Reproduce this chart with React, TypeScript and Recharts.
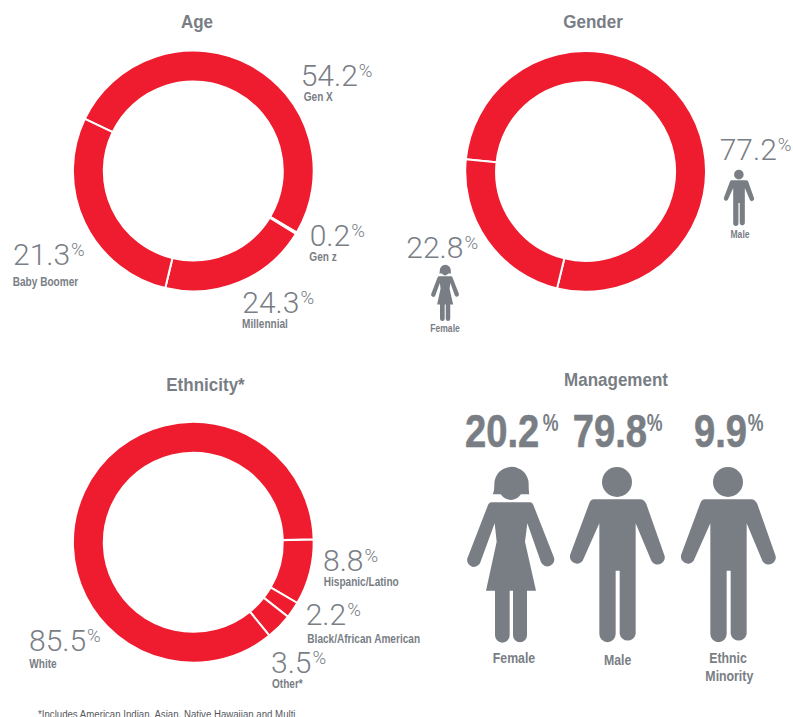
import React from "react";
import { PieChart, Pie, Cell } from "recharts";

const RED = "#ee1c2e";
const GRAY = "#797e85";
const SANS = '"Liberation Sans", Arial, sans-serif';
const LIGHT = 'Roboto, "Liberation Sans", sans-serif';

// age arcs are read off the drawn ring, the printed labels don't agree with it
const ageNames = ["Gen X", "Gen z", "Millennial", "Baby Boomer"];
const ageArcs = [51.4, 0.2, 20, 28.4];
const ageLabels = ["54.2", "0.2", "24.3", "21.3"];

const genderNames = ["Male", "Female"];
const genderValues = [77.2, 22.8];

const ethnicityNames = ["Hispanic/Latino", "Black/African American", "Other*", "White"];
const ethnicityValues = [8.8, 2.2, 3.5, 85.5];

const managementValues = ["20.2", "79.8", "9.9"];

function toRows(names: string[], values: number[]) {
  return names.map(function (name, i) {
    return { name: name, value: values[i] };
  });
}

const rings = [
  { key: "age", rows: toRows(ageNames, ageArcs), cx: 193.3, cy: 171, start: 154.3 },
  { key: "gender", rows: toRows(genderNames, genderValues), cx: 585.6, cy: 171.4, start: 174.2 },
  { key: "ethnicity", rows: toRows(ethnicityNames, ethnicityValues), cx: 193.3, cy: 542.3, start: 1.4 },
];

const titles = [
  { text: "Age", x: 197, y: 28 },
  { text: "Gender", x: 593, y: 28 },
  { text: "Ethnicity*", x: 205.5, y: 391 },
  { text: "Management", x: 616, y: 385.5 },
];

const callouts = [
  { value: ageLabels[0], name: ageNames[0], x: 300.7, y: 86, nx: 303.7, ny: 101.3 },
  { value: ageLabels[1], name: ageNames[1], x: 309.7, y: 245.7, nx: 309.3, ny: 260.7 },
  { value: ageLabels[2], name: ageNames[2], x: 242.3, y: 312.7, nx: 242, ny: 328.3 },
  { value: ageLabels[3], name: ageNames[3], x: 13, y: 265, nx: 12.7, ny: 286 },
  { value: "8.8", name: ethnicityNames[0], x: 323, y: 571, nx: 323.7, ny: 586 },
  { value: "2.2", name: ethnicityNames[1], x: 305.7, y: 625, nx: 307.3, ny: 642.7 },
  { value: "3.5", name: ethnicityNames[2], x: 271, y: 673, nx: 272, ny: 687.7 },
  { value: "85.5", name: ethnicityNames[3], x: 29, y: 651, nx: 29.3, ny: 667.7 },
];

const genderCallouts = [
  { value: "77.2", name: genderNames[0], x: 719.7, y: 160, nx: 740, ny: 238 },
  { value: "22.8", name: genderNames[1], x: 406.3, y: 258.3, nx: 445, ny: 332 },
];

const bigNumbers = [
  { value: managementValues[0], x: 465, pct: 542.7 },
  { value: managementValues[1], x: 572.7, pct: 646.7 },
  { value: managementValues[2], x: 694, pct: 747.7 },
];

const bodyLabels = [
  { text: "Female", x: 514, y: 662.7 },
  { text: "Male", x: 617.7, y: 664.7 },
  { text: "Ethnic", x: 728, y: 662.7 },
  { text: "Minority", x: 729.3, y: 680.7 },
];

const MALE_BODY =
  "M432 418 H570 Q583 418 589 432 L642 583 A21 21 0 0 1 604 602 L557 490 V822 A24.5 24.5 0 0 1 509 822 V632 H497 V822 A24.5 24.5 0 0 1 448 822 V490 L398 602 A21 21 0 0 1 361 583 L417 432 Q421 418 432 418 Z";
const FEMALE_HAIR =
  "M128 403 Q133 395 133 372 A50 50 0 0 1 236 372 Q236 395 238 403 H213 Q200 420 183 420 Q165 420 152 403 Z";
const FEMALE_BODY =
  "M125 427 H240 Q248 427 252 440 L311 590 A20 20 0 0 1 273 607 L232 490 L225 545 L258 692 H231 V826 A21 21 0 0 1 189 826 V692 H179 V826 A22 22 0 0 1 135 826 V692 H108 L140 545 L134 490 L90 610 A20 20 0 0 1 54 590 L112 440 Q116 427 125 427 Z";

function Male(props: { x: number; y: number; s: number }) {
  return (
    <g transform={"translate(" + props.x + " " + props.y + ") scale(" + props.s + ")"} fill={GRAY}>
      <circle cx={501} cy={366} r={45} />
      <path d={MALE_BODY} />
    </g>
  );
}

function Female(props: { x: number; y: number; s: number }) {
  return (
    <g transform={"translate(" + props.x + " " + props.y + ") scale(" + props.s + ")"} fill={GRAY}>
      <path d={FEMALE_HAIR} />
      <path d={FEMALE_BODY} />
    </g>
  );
}

// no narrow face is installed, so squeeze the regular one horizontally
function Cond(props: {
  text: string;
  x: number;
  y: number;
  size: number;
  sx: number;
  anchor?: "middle";
  weight?: number;
  color?: string;
  thick?: number;
}) {
  return (
    <text
      transform={"translate(" + props.x + " " + props.y + ") scale(" + props.sx + " 1)"}
      textAnchor={props.anchor}
      fill={props.color || GRAY}
      stroke={props.thick ? GRAY : "none"}
      strokeWidth={props.thick || 0}
      fontFamily={SANS}
      fontWeight={props.weight || 700}
      fontSize={props.size}
    >
      {props.text}
    </text>
  );
}

function Figure(props: { value: string; x: number; y: number }) {
  return (
    <text x={props.x} y={props.y} fill={GRAY} fontFamily={LIGHT} fontWeight={300} fontSize={30}>
      {props.value}
      <tspan fontSize={18.5} dx={1} dy={-9}>%</tspan>
    </text>
  );
}

export default function App() {
  return (
    <div style={{ position: "absolute", left: 0, top: 0, width: 793, height: 717, overflow: "hidden", background: "#fff" }}>
      <PieChart width={793} height={717} margin={{ top: 0, right: 0, bottom: 0, left: 0 }}>
        {rings.map(function (ring) {
          return (
            <Pie
              key={ring.key}
              data={ring.rows}
              dataKey="value"
              nameKey="name"
              cx={ring.cx}
              cy={ring.cy}
              innerRadius={89.5}
              outerRadius={120.4}
              startAngle={ring.start}
              endAngle={ring.start - 360}
              stroke="#fff"
              strokeWidth={2}
              isAnimationActive={false}
            >
              {ring.rows.map(function (row) {
                return <Cell key={row.name} fill={RED} />;
              })}
            </Pie>
          );
        })}
      </PieChart>

      <svg width={793} height={717} style={{ position: "absolute", left: 0, top: 0 }}>
        {titles.map(function (t) {
          return <Cond key={t.text} text={t.text} x={t.x} y={t.y} size={18.5} sx={0.92} anchor="middle" />;
        })}

        {callouts.map(function (c) {
          return (
            <g key={c.name}>
              <Figure value={c.value} x={c.x} y={c.y} />
              <Cond text={c.name} x={c.nx} y={c.ny} size={12} sx={0.84} />
            </g>
          );
        })}

        {genderCallouts.map(function (c) {
          return (
            <g key={c.name}>
              <Figure value={c.value} x={c.x} y={c.y} />
              <Cond text={c.name} x={c.nx} y={c.ny} size={11} sx={0.78} anchor="middle" />
            </g>
          );
        })}

        <Male x={685.4} y={135.6} s={0.1067} />
        <Female x={425.6} y={230.6} s={0.1067} />

        {bigNumbers.map(function (b) {
          return (
            <g key={b.value}>
              <Cond text={b.value} x={b.x} y={446.7} size={46} sx={0.83} thick={0.6} />
              <Cond text="%" x={b.pct} y={431} size={24} sx={0.74} />
            </g>
          );
        })}

        <Female x={450} y={360} s={1 / 3} />
        <Male x={450} y={360} s={1 / 3} />
        <Male x={561} y={360} s={1 / 3} />

        {bodyLabels.map(function (l) {
          return <Cond key={l.text} text={l.text} x={l.x} y={l.y} size={14} sx={0.88} anchor="middle" />;
        })}

        <Cond
          text="*Includes American Indian, Asian, Native Hawaiian and Multi"
          x={38}
          y={717.5}
          size={11.5}
          sx={0.84}
          weight={400}
          color="#55585d"
        />
      </svg>
    </div>
  );
}
